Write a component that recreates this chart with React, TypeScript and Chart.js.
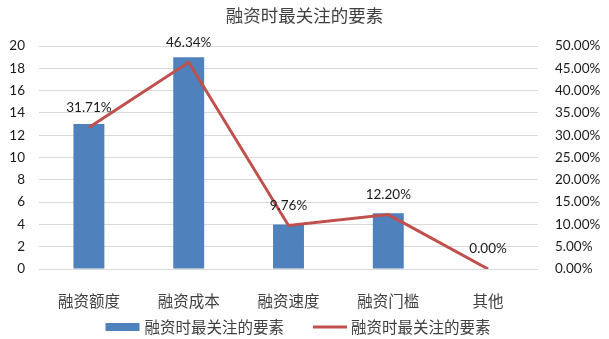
import React, { useEffect, useRef } from "react";
import { Chart, registerables } from "chart.js";

Chart.register(...registerables);

const titleText = "融资时最关注的要素";
const categories = ["融资额度", "融资成本", "融资速度", "融资门槛", "其他"];
const barSeriesName = "融资时最关注的要素";
const lineSeriesName = "融资时最关注的要素";
const barValues = [13, 19, 4, 5, 0];
const lineValues = [0.3171, 0.4634, 0.0976, 0.122, 0.0];
const leftTicksMax = 20;
const leftTicksStep = 2;
const rightTicksMax = 0.5;
const rightTicksStep = 0.05;

const BAR_COLOR = "#4f81bd";
const LINE_COLOR = "#c0504d";
const CJK = '"Noto Sans CJK SC", "Noto Sans", sans-serif';
const NUM = 'Lato, "Open Sans", sans-serif';

const pct = (v: number) => (v * 100).toFixed(2) + "%";

const overlayPlugin = {
  id: "overlay",
  afterDatasetsDraw(chart: any) {
    const ctx = chart.ctx;
    const meta = chart.getDatasetMeta(1);
    ctx.save();
    ctx.font = `13.5px ${NUM}`;
    ctx.fillStyle = "#1a1a1a";
    ctx.textAlign = "center";
    ctx.textBaseline = "middle";
    meta.data.forEach((pt: any, i: number) => {
      ctx.fillText(pct(lineValues[i]), pt.x, pt.y - 20);
    });
    ctx.restore();
  },
  afterDraw(chart: any) {
    const ctx = chart.ctx;
    const w = chart.width;
    ctx.save();
    ctx.font = `17.5px ${CJK}`;
    ctx.fillStyle = "#404040";
    ctx.textAlign = "center";
    ctx.textBaseline = "middle";
    ctx.fillText(titleText, w / 2, 15);

    ctx.font = `15.5px ${CJK}`;
    const t1 = ctx.measureText(barSeriesName).width;
    const t2 = ctx.measureText(lineSeriesName).width;
    const boxW = 34;
    const gap = 5;
    const itemGap = 29;
    const total = boxW + gap + t1 + itemGap + boxW + gap + t2;
    let x = w / 2 - 6 - total / 2;
    const y = 327;
    ctx.fillStyle = BAR_COLOR;
    ctx.fillRect(x, y - 4, boxW, 8);
    x += boxW + gap;
    ctx.fillStyle = "#404040";
    ctx.textAlign = "left";
    ctx.fillText(barSeriesName, x, y);
    x += t1 + itemGap;
    ctx.strokeStyle = LINE_COLOR;
    ctx.lineWidth = 3;
    ctx.beginPath();
    ctx.moveTo(x, y);
    ctx.lineTo(x + boxW, y);
    ctx.stroke();
    x += boxW + gap - 1;
    ctx.fillText(lineSeriesName, x, y);
    ctx.restore();
  },
};

export default function App() {
  const ref = useRef<HTMLCanvasElement | null>(null);
  useEffect(() => {
    if (!ref.current) return;
    const chart = new Chart(ref.current, {
      type: "bar",
      data: {
        labels: categories,
        datasets: [
          {
            type: "bar",
            label: barSeriesName,
            data: barValues,
            backgroundColor: BAR_COLOR,
            yAxisID: "y",
            categoryPercentage: 1,
            barPercentage: 0.31,
            order: 2,
          },
          {
            type: "line",
            label: lineSeriesName,
            data: lineValues,
            borderColor: LINE_COLOR,
            backgroundColor: LINE_COLOR,
            borderWidth: 3,
            pointRadius: 0,
            tension: 0,
            yAxisID: "y1",
            order: 1,
          } as any,
        ],
      },
      options: {
        responsive: false,
        animation: false,
        layout: { padding: { top: 46, left: 0, right: 0, bottom: 30 } },
        plugins: {
          legend: { display: false },
          title: { display: false },
          tooltip: { enabled: false },
        },
        scales: {
          x: {
            grid: { display: false },
            border: { display: false },
            ticks: {
              font: { family: CJK, size: 15.5 },
              color: "#404040",
              padding: 15,
              maxRotation: 0,
              autoSkip: false,
            },
            afterFit: (s: any) => {
              s.height = 40;
            },
          },
          y: {
            position: "left",
            min: 0,
            max: leftTicksMax,
            grid: { color: "#d9d9d9", lineWidth: 1, drawTicks: false },
            border: { display: false },
            ticks: {
              stepSize: leftTicksStep,
              font: { family: NUM, size: 13.5 },
              color: "#1a1a1a",
              padding: 14,
            },
            afterFit: (s: any) => {
              s.width = 39;
            },
          },
          y1: {
            position: "right",
            min: 0,
            max: rightTicksMax,
            grid: { display: false, drawTicks: false },
            border: { display: false },
            ticks: {
              stepSize: rightTicksStep,
              maxTicksLimit: 11,
              font: { family: NUM, size: 13.5 },
              color: "#1a1a1a",
              padding: 17,
              callback: (v: any) => pct(Number(v)),
            },
            afterFit: (s: any) => {
              s.width = 71;
            },
          },
        },
      },
      plugins: [overlayPlugin],
    });
    return () => chart.destroy();
  }, []);
  return (
    <div style={{ position: "fixed", left: 0, top: 0, width: 609, height: 339, background: "#fff" }}>
      <canvas ref={ref} width={609} height={339} style={{ width: 609, height: 339 }} />
    </div>
  );
}
